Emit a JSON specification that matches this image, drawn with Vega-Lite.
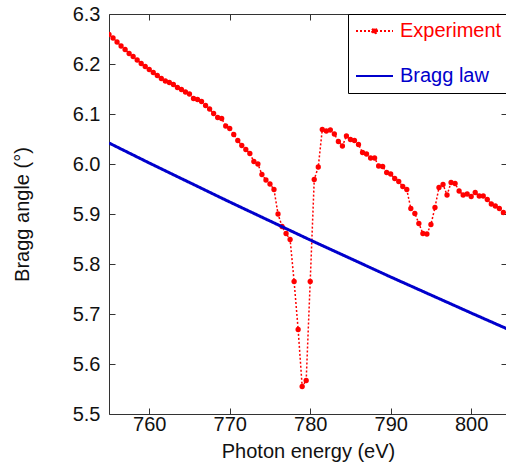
{
  "$schema": "https://vega.github.io/schema/vega-lite/v6.json",
  "width": 398,
  "height": 400,
  "autosize": {"type": "none"},
  "padding": {"left": 109, "top": 14, "right": 0, "bottom": 53},
  "background": "white",
  "config": {
    "font": "Liberation Sans",
    "view": {"stroke": null},
    "axis": {
      "grid": false,
      "domainColor": "#333333",
      "domainWidth": 1,
      "tickColor": "#333333",
      "tickWidth": 1,
      "tickSize": -6,
      "labelFont": "Liberation Sans",
      "labelFontSize": 20,
      "labelColor": "#111111",
      "titleFont": "Liberation Sans",
      "titleFontSize": 20,
      "titleFontWeight": "normal",
      "titleColor": "#111111"
    }
  },
  "datasets": {
    "exp": [
      {"E": 755.0, "angle": 6.259, "series": "Experiment"},
      {"E": 755.5, "angle": 6.252, "series": "Experiment"},
      {"E": 756.0, "angle": 6.244, "series": "Experiment"},
      {"E": 756.5, "angle": 6.236, "series": "Experiment"},
      {"E": 757.0, "angle": 6.229, "series": "Experiment"},
      {"E": 757.5, "angle": 6.221, "series": "Experiment"},
      {"E": 758.0, "angle": 6.215, "series": "Experiment"},
      {"E": 758.5, "angle": 6.208, "series": "Experiment"},
      {"E": 759.0, "angle": 6.201, "series": "Experiment"},
      {"E": 759.5, "angle": 6.195, "series": "Experiment"},
      {"E": 760.0, "angle": 6.189, "series": "Experiment"},
      {"E": 760.5, "angle": 6.183, "series": "Experiment"},
      {"E": 761.0, "angle": 6.177, "series": "Experiment"},
      {"E": 761.5, "angle": 6.171, "series": "Experiment"},
      {"E": 762.0, "angle": 6.166, "series": "Experiment"},
      {"E": 762.5, "angle": 6.163, "series": "Experiment"},
      {"E": 763.0, "angle": 6.159, "series": "Experiment"},
      {"E": 763.5, "angle": 6.153, "series": "Experiment"},
      {"E": 764.0, "angle": 6.149, "series": "Experiment"},
      {"E": 764.5, "angle": 6.144, "series": "Experiment"},
      {"E": 765.0, "angle": 6.140, "series": "Experiment"},
      {"E": 765.5, "angle": 6.131, "series": "Experiment"},
      {"E": 766.0, "angle": 6.129, "series": "Experiment"},
      {"E": 766.5, "angle": 6.125, "series": "Experiment"},
      {"E": 767.0, "angle": 6.117, "series": "Experiment"},
      {"E": 767.5, "angle": 6.110, "series": "Experiment"},
      {"E": 768.0, "angle": 6.101, "series": "Experiment"},
      {"E": 768.5, "angle": 6.093, "series": "Experiment"},
      {"E": 769.0, "angle": 6.091, "series": "Experiment"},
      {"E": 769.5, "angle": 6.076, "series": "Experiment"},
      {"E": 770.0, "angle": 6.071, "series": "Experiment"},
      {"E": 770.5, "angle": 6.059, "series": "Experiment"},
      {"E": 771.0, "angle": 6.047, "series": "Experiment"},
      {"E": 771.5, "angle": 6.037, "series": "Experiment"},
      {"E": 772.0, "angle": 6.029, "series": "Experiment"},
      {"E": 772.5, "angle": 6.021, "series": "Experiment"},
      {"E": 773.0, "angle": 6.005, "series": "Experiment"},
      {"E": 773.5, "angle": 6.000, "series": "Experiment"},
      {"E": 774.0, "angle": 5.979, "series": "Experiment"},
      {"E": 774.5, "angle": 5.968, "series": "Experiment"},
      {"E": 775.0, "angle": 5.960, "series": "Experiment"},
      {"E": 775.5, "angle": 5.949, "series": "Experiment"},
      {"E": 776.0, "angle": 5.900, "series": "Experiment"},
      {"E": 776.5, "angle": 5.875, "series": "Experiment"},
      {"E": 777.0, "angle": 5.861, "series": "Experiment"},
      {"E": 777.5, "angle": 5.849, "series": "Experiment"},
      {"E": 778.0, "angle": 5.765, "series": "Experiment"},
      {"E": 778.5, "angle": 5.669, "series": "Experiment"},
      {"E": 779.0, "angle": 5.555, "series": "Experiment"},
      {"E": 779.5, "angle": 5.567, "series": "Experiment"},
      {"E": 780.0, "angle": 5.765, "series": "Experiment"},
      {"E": 780.5, "angle": 5.969, "series": "Experiment"},
      {"E": 781.0, "angle": 5.994, "series": "Experiment"},
      {"E": 781.5, "angle": 6.069, "series": "Experiment"},
      {"E": 782.0, "angle": 6.066, "series": "Experiment"},
      {"E": 782.5, "angle": 6.068, "series": "Experiment"},
      {"E": 783.0, "angle": 6.060, "series": "Experiment"},
      {"E": 783.5, "angle": 6.045, "series": "Experiment"},
      {"E": 784.0, "angle": 6.036, "series": "Experiment"},
      {"E": 784.5, "angle": 6.056, "series": "Experiment"},
      {"E": 785.0, "angle": 6.049, "series": "Experiment"},
      {"E": 785.5, "angle": 6.047, "series": "Experiment"},
      {"E": 786.0, "angle": 6.039, "series": "Experiment"},
      {"E": 786.5, "angle": 6.023, "series": "Experiment"},
      {"E": 787.0, "angle": 6.020, "series": "Experiment"},
      {"E": 787.5, "angle": 6.012, "series": "Experiment"},
      {"E": 788.0, "angle": 6.012, "series": "Experiment"},
      {"E": 788.5, "angle": 5.996, "series": "Experiment"},
      {"E": 789.0, "angle": 5.995, "series": "Experiment"},
      {"E": 789.5, "angle": 5.983, "series": "Experiment"},
      {"E": 790.0, "angle": 5.980, "series": "Experiment"},
      {"E": 790.5, "angle": 5.971, "series": "Experiment"},
      {"E": 791.0, "angle": 5.965, "series": "Experiment"},
      {"E": 791.5, "angle": 5.955, "series": "Experiment"},
      {"E": 792.0, "angle": 5.949, "series": "Experiment"},
      {"E": 792.5, "angle": 5.911, "series": "Experiment"},
      {"E": 793.0, "angle": 5.901, "series": "Experiment"},
      {"E": 793.5, "angle": 5.881, "series": "Experiment"},
      {"E": 794.0, "angle": 5.861, "series": "Experiment"},
      {"E": 794.5, "angle": 5.860, "series": "Experiment"},
      {"E": 795.0, "angle": 5.879, "series": "Experiment"},
      {"E": 795.5, "angle": 5.913, "series": "Experiment"},
      {"E": 796.0, "angle": 5.953, "series": "Experiment"},
      {"E": 796.5, "angle": 5.959, "series": "Experiment"},
      {"E": 797.0, "angle": 5.938, "series": "Experiment"},
      {"E": 797.5, "angle": 5.963, "series": "Experiment"},
      {"E": 798.0, "angle": 5.961, "series": "Experiment"},
      {"E": 798.5, "angle": 5.946, "series": "Experiment"},
      {"E": 799.0, "angle": 5.938, "series": "Experiment"},
      {"E": 799.5, "angle": 5.940, "series": "Experiment"},
      {"E": 800.0, "angle": 5.935, "series": "Experiment"},
      {"E": 800.5, "angle": 5.943, "series": "Experiment"},
      {"E": 801.0, "angle": 5.936, "series": "Experiment"},
      {"E": 801.5, "angle": 5.936, "series": "Experiment"},
      {"E": 802.0, "angle": 5.929, "series": "Experiment"},
      {"E": 802.5, "angle": 5.920, "series": "Experiment"},
      {"E": 803.0, "angle": 5.916, "series": "Experiment"},
      {"E": 803.5, "angle": 5.911, "series": "Experiment"},
      {"E": 804.0, "angle": 5.903, "series": "Experiment"}
    ],
    "bragg": [
      {"E": 755, "angle": 6.042, "series": "Bragg law"},
      {"E": 760, "angle": 6.002, "series": "Bragg law"},
      {"E": 765, "angle": 5.963, "series": "Bragg law"},
      {"E": 770, "angle": 5.924, "series": "Bragg law"},
      {"E": 775, "angle": 5.886, "series": "Bragg law"},
      {"E": 780, "angle": 5.848, "series": "Bragg law"},
      {"E": 785, "angle": 5.811, "series": "Bragg law"},
      {"E": 790, "angle": 5.774, "series": "Bragg law"},
      {"E": 795, "angle": 5.738, "series": "Bragg law"},
      {"E": 800, "angle": 5.702, "series": "Bragg law"},
      {"E": 804.5, "angle": 5.670, "series": "Bragg law"}
    ]
  },
  "layer": [
    {
      "data": {"name": "exp"},
      "mark": {"type": "line", "strokeWidth": 1.5, "clip": true},
      "encoding": {
        "x": {
          "field": "E", "type": "quantitative",
          "scale": {"domain": [755, 804.45], "nice": false, "zero": false},
          "axis": {"orient": "bottom", "values": [760, 770, 780, 790, 800], "title": "Photon energy (eV)", "labelPadding": 6, "titlePadding": 7}
        },
        "y": {
          "field": "angle", "type": "quantitative",
          "scale": {"domain": [5.5, 6.3], "nice": false, "zero": false},
          "axis": {"orient": "left", "values": [5.5, 5.6, 5.7, 5.8, 5.9, 6.0, 6.1, 6.2, 6.3], "format": ".1f", "title": "Bragg angle (°)", "labelPadding": 15, "titlePadding": 40}
        },
        "color": {
          "field": "series", "type": "nominal",
          "scale": {"domain": ["Experiment", "Bragg law"], "range": ["#ff0000", "#0000cc"]},
          "legend": {
            "title": null,
            "orient": "none",
            "legendX": 239,
            "legendY": 0,
            "direction": "vertical",
            "strokeColor": "black",
            "fillColor": "white",
            "padding": 7,
            "symbolType": "stroke",
            "symbolSize": 1369,
            "symbolStrokeWidth": 2,
            "clipHeight": 20,
            "labelFontSize": 20,
            "labelFont": "Liberation Sans",
            "labelOffset": 6,
            "rowPadding": 25,
            "labelLimit": 300,
            "encode": {
              "labels": {"update": {
                "text": {"signal": "datum.label + '\u00a0\u00a0\u00a0\u00a0\u00a0\u00a0'"},
                "fill": {"signal": "datum.value === 'Experiment' ? '#ff0000' : '#0000cc'"}
              }},
              "symbols": {"update": {
                "shape": {"signal": "datum.value === 'Experiment' ? 'M-1,0L1,0M-0.13,0A0.13,0.13 0 1,0 0.13,0A0.13,0.13 0 1,0 -0.13,0Z' : 'stroke'"},
                "fill": {"signal": "datum.value === 'Experiment' ? '#ff0000' : 'transparent'"}
              }}
            }
          }
        },
        "strokeDash": {
          "field": "series", "type": "nominal",
          "scale": {"domain": ["Experiment", "Bragg law"], "range": [[2, 2], [1, 0]]},
          "legend": {"title": null}
        }
      }
    },
    {
      "data": {"name": "exp"},
      "mark": {"type": "point", "filled": true, "size": 28, "opacity": 1, "clip": true},
      "encoding": {
        "x": {"field": "E", "type": "quantitative", "axis": null},
        "y": {"field": "angle", "type": "quantitative", "axis": null},
        "color": {"value": "#ff0000"}
      }
    },
    {
      "data": {"name": "bragg"},
      "mark": {"type": "line", "strokeWidth": 3, "clip": true},
      "encoding": {
        "x": {"field": "E", "type": "quantitative", "axis": {"orient": "top", "values": [760, 770, 780, 790, 800], "labels": false, "title": null}},
        "y": {"field": "angle", "type": "quantitative", "axis": {"orient": "right", "values": [5.5, 5.6, 5.7, 5.8, 5.9, 6.0, 6.1, 6.2, 6.3], "labels": false, "title": null}},
        "color": {"field": "series", "type": "nominal"},
        "strokeDash": {"field": "series", "type": "nominal"}
      }
    }
  ],
  "resolve": {"axis": {"x": "independent", "y": "independent"}}
}
